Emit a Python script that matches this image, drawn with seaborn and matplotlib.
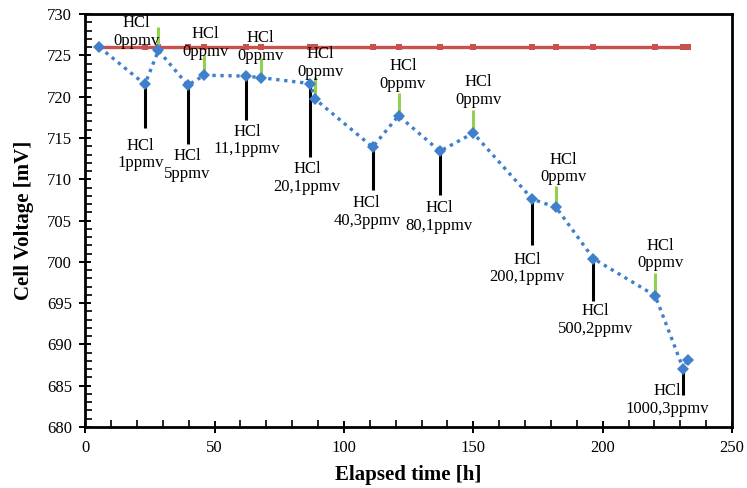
import numpy as np
import pandas as pd
import seaborn as sns
import matplotlib.pyplot as plt
from matplotlib.ticker import MultipleLocator

# Measured cell voltage during HCl exposure steps
elapsed_h = [5.5, 23.1, 28.3, 39.7, 46.0, 62.1, 68.0, 86.9, 88.9, 111.1,
             121.1, 137.1, 150.0, 172.8, 182.0, 196.4, 220.3, 231.2, 232.8]
cell_mv = [726.0, 721.5, 725.6, 721.4, 722.6, 722.5, 722.3, 721.6, 719.7, 713.9,
           717.7, 713.4, 715.6, 707.6, 706.6, 700.4, 695.9, 687.0, 688.1]
# Reference (HCl-free) cell voltage
ref_mv = [726.0] * len(elapsed_h)

# HCl dosing steps (index into the series above, label text)
dose_idx = [1, 3, 5, 7, 9, 11, 13, 15, 17]
dose_txt = ["1ppmv", "5ppmv", "11,1ppmv", "20,1ppmv", "40,3ppmv",
            "80,1ppmv", "200,1ppmv", "500,2ppmv", "1000,3ppmv"]
# HCl switch-off steps
off_idx = [2, 4, 6, 8, 10, 12, 14, 16]

# Callout layout: leader end and label centre for each step
dose_leader_end = [716.2, 714.3, 717.2, 712.7, 708.7, 708.1, 702.0, 695.2, 683.9]
dose_label_xy = [(21.3, 713.0), (39.3, 711.7), (62.5, 714.7), (85.8, 710.2),
                 (108.8, 706.0), (136.8, 705.4), (170.8, 699.2), (197.1, 693.0),
                 (224.8, 683.3)]
off_leader_end = [728.5, 725.0, 724.7, 722.4, 720.4, 718.4, 709.2, 698.7]
off_label_xy = [(19.7, 727.8), (46.4, 726.5), (67.8, 726.0), (90.8, 724.1),
                (122.8, 722.6), (151.9, 720.7), (184.8, 711.3), (222.2, 700.9)]

sns.set_style("ticks")
plt.rcParams["font.family"] = ["Liberation Serif", "DejaVu Serif"]
plt.rcParams.update({"text.color": "black", "axes.labelcolor": "black",
                     "xtick.color": "black", "ytick.color": "black",
                     "xtick.labelcolor": "black", "ytick.labelcolor": "black"})

BLUE = "#3F7FCC"
RED = "#C8504D"
GREEN = "#92D050"

fig = plt.figure(figsize=(7.47, 4.88), dpi=100)
ax = fig.add_axes([0.114, 0.125, 0.866, 0.846])

df = pd.DataFrame({"t": elapsed_h, "v": cell_mv, "ref": ref_mv})

sns.lineplot(data=df, x="t", y="ref", ax=ax, color=RED, linewidth=2.4,
             marker="s", markersize=5, markeredgewidth=0, zorder=2)

# leader lines for the dosing steps
for i, end, (lx, ly), txt in zip(dose_idx, dose_leader_end, dose_label_xy, dose_txt):
    ax.plot([elapsed_h[i], elapsed_h[i]], [cell_mv[i], end], color="black",
            linewidth=2.2, solid_capstyle="butt", zorder=3)
    ax.text(lx, ly, "HCl\n" + txt, ha="center", va="center", fontsize=12,
            linespacing=1.15, color="black", zorder=5)

# leader lines for the switch-off steps
for i, top, (lx, ly) in zip(off_idx, off_leader_end, off_label_xy):
    ax.plot([elapsed_h[i], elapsed_h[i]], [top, cell_mv[i]], color=GREEN,
            linewidth=2.2, solid_capstyle="butt", zorder=3)
    ax.text(lx, ly, "HCl\n0ppmv", ha="center", va="center", fontsize=12,
            linespacing=1.15, color="black", zorder=5)

sns.lineplot(data=df, x="t", y="v", ax=ax, color=BLUE, linewidth=2.4,
             linestyle=(0, (1, 1.4)), marker="D", markersize=6,
             markeredgewidth=0, zorder=4)

ax.set_xlim(0, 250)
ax.set_ylim(680, 730)
ax.xaxis.set_major_locator(MultipleLocator(50))
ax.xaxis.set_minor_locator(MultipleLocator(10))
ax.yaxis.set_major_locator(MultipleLocator(5))
ax.yaxis.set_minor_locator(MultipleLocator(1))

ax.tick_params(which="major", direction="inout", length=9, width=1.4,
               labelsize=12, color="black", labelcolor="black", pad=5)
ax.tick_params(which="minor", direction="in", length=5, width=1.2, color="black")
ax.tick_params(axis="y", which="both", right=False)
ax.tick_params(axis="x", which="both", top=False)

for sp in ax.spines.values():
    sp.set_visible(True)
    sp.set_linewidth(2.0)
    sp.set_color("black")

ax.set_xlabel("Elapsed time [h]", fontsize=15, fontweight="bold", labelpad=6,
              color="black")
ax.set_ylabel("Cell Voltage [mV]", fontsize=15, fontweight="bold", labelpad=9,
              color="black")

fig.savefig("out.png", dpi=100)
